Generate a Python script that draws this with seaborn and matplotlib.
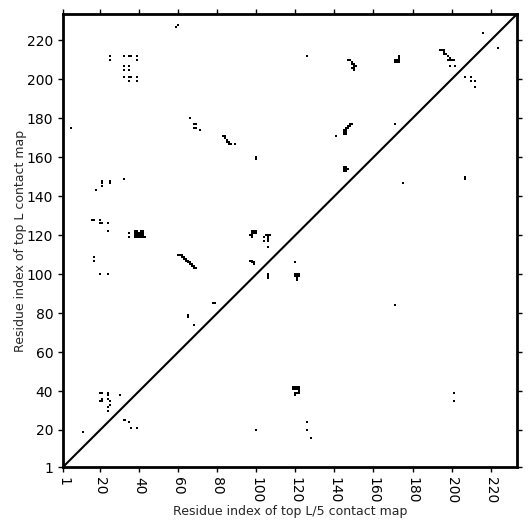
import numpy as np
import pandas as pd
import matplotlib
matplotlib.use("Agg")
import matplotlib.pyplot as plt
import seaborn as sns

# ------------------------------
# DATA (residue pairs)
# ------------------------------

seq_len = 233

# top L contacts (upper-left triangle)
top_L_contacts = [
    (59, 227), (60, 228),
    (25, 212), (25, 210), (32, 212), (35, 212), (36, 212), (39, 212), (39, 210),
    (32, 207), (35, 207), (32, 205), (35, 205), (32, 201), (35, 201), (36, 201),
    (39, 201), (35, 199), (39, 199),
    (5, 175),
    (66, 180), (68, 177), (69, 177), (68, 175), (69, 175), (71, 174),
    (126, 212),
    (147, 210), (148, 210), (149, 209), (149, 208), (150, 208), (150, 207),
    (151, 207), (150, 206), (150, 205), (149, 206),
    (83, 171), (84, 171), (84, 170), (85, 169), (85, 168), (86, 168), (86, 167),
    (87, 167), (89, 167),
    (100, 160), (100, 159),
    (148, 177), (149, 177), (147, 176), (148, 176), (146, 175), (147, 175),
    (145, 174), (146, 174), (145, 173), (146, 173), (145, 172), (146, 172),
    (141, 171),
    (145, 155), (146, 155), (145, 154), (146, 154), (147, 154), (145, 153), (146, 153),
    (216, 224),
    (173, 212), (173, 211), (173, 210), (173, 209), (171, 210), (172, 210),
    (171, 209), (172, 209),
    (194, 215), (195, 215), (196, 215), (196, 214), (196, 213), (197, 213),
    (198, 212), (199, 211), (198, 210), (199, 210), (200, 210), (201, 210),
    (199, 207), (202, 207),
    (171, 177),
    (21, 148), (21, 147), (25, 148), (25, 147), (21, 145), (18, 143), (32, 149),
    (16, 128), (17, 128), (20, 128), (20, 126), (21, 126), (24, 126), (24, 122),
    (35, 121), (35, 119),
    (38, 122), (39, 122), (41, 122), (42, 122),
    (38, 121), (39, 121), (40, 121), (41, 121), (42, 121),
    (38, 120), (39, 120), (40, 120), (41, 120), (42, 120),
    (38, 119), (39, 119), (40, 119), (41, 119), (42, 119), (43, 119),
    (17, 109), (17, 107), (20, 100), (24, 100),
    (60, 110), (61, 110), (62, 110), (62, 109), (63, 109), (63, 108), (64, 108),
    (64, 107), (65, 107), (65, 106), (66, 106), (66, 105), (67, 105), (67, 104),
    (68, 104), (68, 103), (69, 103),
    (78, 85), (79, 85), (65, 79), (65, 78), (68, 74),
    (98, 122), (99, 122), (100, 122), (98, 121), (99, 121), (100, 121),
    (97, 120), (98, 120), (98, 119),
    (105, 120), (106, 120), (107, 120), (106, 119), (106, 118), (106, 117),
    (104, 119), (104, 117), (106, 114),
    (97, 107), (98, 107), (98, 106), (99, 106), (99, 105),
    (20, 39), (21, 39), (24, 39), (24, 38), (21, 36), (20, 35), (21, 35),
    (24, 36), (25, 35), (25, 33), (24, 32), (24, 30), (30, 38),
    (11, 19),
]

# top L/5 contacts (lower-right triangle)
top_L5_contacts = [
    (224, 216), (207, 201), (210, 201), (210, 199), (212, 199), (212, 196),
    (175, 147), (207, 150), (207, 149), (171, 84),
    (120, 106), (106, 100), (106, 99), (106, 98),
    (120, 100), (121, 100), (122, 100), (120, 99), (121, 99), (122, 99),
    (121, 98), (121, 97),
    (119, 42), (120, 42), (121, 42), (122, 42), (119, 41), (120, 41),
    (121, 41), (122, 41), (122, 40), (121, 39), (122, 39), (120, 39), (120, 38),
    (126, 24), (126, 20), (128, 16), (100, 20),
    (201, 39), (201, 35),
    (32, 25), (33, 25), (35, 24), (36, 21), (39, 21),
]

x_ticks = [1, 20, 40, 60, 80, 100, 120, 140, 160, 180, 200, 220]
y_ticks = [1, 20, 40, 60, 80, 100, 120, 140, 160, 180, 200, 220]

# ------------------------------
# PLOT
# ------------------------------

sns.set_style("ticks")
plt.rcParams["font.family"] = ["DejaVu Sans"]
plt.rcParams["axes.edgecolor"] = "black"
plt.rcParams["axes.linewidth"] = 2
plt.rcParams["xtick.color"] = "black"
plt.rcParams["ytick.color"] = "black"

df = pd.DataFrame(
    top_L_contacts + top_L5_contacts,
    columns=["i", "j"]
)

fig = plt.figure(figsize=(5.31, 5.31), dpi=100)
ax = fig.add_axes([0.1186, 0.1205, 0.855, 0.853])

sns.scatterplot(
    data=df,
    x="i",
    y="j",
    marker="s",
    s=2.3,
    color="black",
    linewidth=0,
    ax=ax
)

lim = (1, seq_len + 0.5)
ax.plot(lim, lim, color="black", linewidth=1.5)

ax.set_xlim(lim)
ax.set_ylim(lim)

ax.set_xticks(x_ticks)
ax.set_yticks(y_ticks)
ax.set_xticklabels([str(t) for t in x_ticks], rotation=270)
ax.set_yticklabels([str(t) for t in y_ticks])

ax.tick_params(
    top=True, right=True, direction="out",
    length=3.5, width=1, labelsize=10
)

ax.set_xlabel("Residue index of top L/5 contact map", fontsize=9, labelpad=1)
ax.set_ylabel("Residue index of top L contact map", fontsize=9, labelpad=0)

fig.savefig("out.png", dpi=100)
